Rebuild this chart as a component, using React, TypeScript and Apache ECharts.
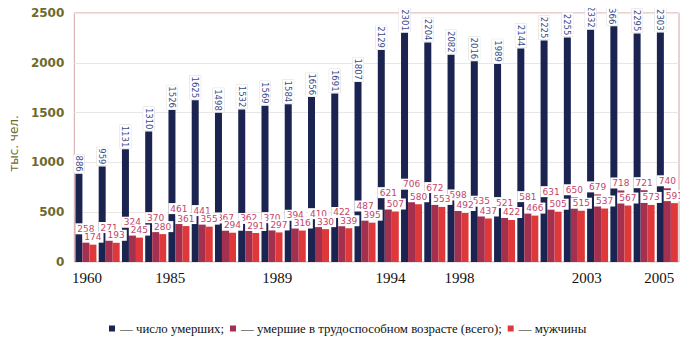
import React, { useEffect, useRef } from "react";
import * as echarts from "echarts";

const years = ["1960","1965","1970","1975","1980","1985","1986","1987","1988","1989","1990","1991","1992","1993","1994","1995","1996","1997","1998","1999","2000","2001","2002","2003","2004","2005"];
const totalDeaths = [886,959,1131,1310,1526,1625,1498,1532,1569,1584,1656,1691,1807,2129,2301,2204,2082,2016,1989,2144,2225,2255,2332,2366,2295,2303];
const workingAge = [258,271,324,370,461,441,367,362,370,394,410,422,487,621,706,672,598,535,521,581,631,650,679,718,721,740];
const men = [174,193,245,280,361,355,294,291,297,316,330,339,395,507,580,553,492,437,422,466,505,515,537,567,573,591];
const shownYears = ["1960","1985","1989","1994","1998","2003","2005"];
const labelShift: Record<string, number> = { "1960": 1, "1985": -32, "1989": -18, "1994": -21, "1998": -45, "2003": -34, "2005": -8 };
const yTicks = [0, 500, 1000, 1500, 2000, 2500];
const names = ["— число умерших;", "— умершие в трудоспособном возрасте (всего);", "— мужчины"];
const colors = ["#1b2451", "#a3304f", "#df383b"];

export default function App() {
  const ref = useRef<HTMLDivElement>(null);
  useEffect(() => {
    if (!ref.current) return;
    const chart = echarts.init(ref.current, null, { renderer: "svg" });
    const rich: Record<string, any> = {};
    shownYears.forEach((y) => {
      const s = labelShift[y] || 0;
      rich["y" + y] = {
        fontFamily: "Liberation Serif",
        fontSize: 15,
        color: "#111",
        padding: s < 0 ? [0, -2 * s, 0, 0] : [0, 0, 0, 2 * s],
      };
    });
    const lowLabel = {
      show: true,
      position: "top",
      distance: 2,
      fontFamily: "DejaVu Sans",
      fontSize: 9,
      color: "#c2466a",
      backgroundColor: "#ffffff",
      padding: [1, 2],
    };
    chart.setOption({
      animation: false,
      backgroundColor: "#ffffff",
      color: colors,
      grid: {
        left: 65,
        right: 9,
        top: 13,
        bottom: 86,
        show: true,
        borderColor: "#d4a4a4",
        borderWidth: 1,
      },
      legend: {
        left: 104,
        top: 317,
        icon: "rect",
        itemWidth: 6,
        itemHeight: 6,
        itemGap: 6,
        textStyle: { fontFamily: "Liberation Serif", fontSize: 12.8, color: "#111" },
        data: names,
      },
      xAxis: {
        type: "category",
        data: years,
        axisLine: { show: false },
        axisTick: { show: false },
        axisLabel: {
          interval: 0,
          margin: 8,
          formatter: (v: string) => (shownYears.indexOf(v) >= 0 ? `{y${v}|${v}}` : ""),
          rich,
        },
      },
      yAxis: {
        type: "value",
        min: 0,
        max: 2500,
        interval: 500,
        name: "тыс. чел.",
        nameLocation: "middle",
        nameGap: 48,
        nameTextStyle: { fontFamily: "DejaVu Sans", fontSize: 12, color: "#6e6a2c", padding: [0, 12, 0, 0] },
        axisLine: { show: false },
        axisTick: { show: false },
        axisLabel: {
          margin: 10,
          fontFamily: "DejaVu Sans",
          fontSize: 12,
          fontWeight: "bold",
          color: "#6e6a2c",
          formatter: (v: number) => (yTicks.indexOf(v) >= 0 ? String(v) : ""),
        },
        splitLine: { lineStyle: { color: "#ebe6e6" } },
      },
      series: [
        {
          name: names[0],
          type: "bar",
          data: totalDeaths,
          barWidth: 7,
          barGap: "0%",
          barCategoryGap: "10%",
          itemStyle: { color: colors[0] },
          labelLayout: (p: any) =>
            p.labelRect && p.labelRect.y < 3 ? { dy: 3 - p.labelRect.y } : {},
          label: {
            show: true,
            position: "top",
            rotate: -90,
            align: "right",
            verticalAlign: "middle",
            distance: 1,
            fontFamily: "DejaVu Sans",
            fontSize: 8.5,
            color: "#3b4a8c",
            backgroundColor: "#ffffff",
            borderColor: "#dddddd",
            borderWidth: 0.5,
            padding: [1, 1],
          },
        },
        {
          name: names[1],
          type: "bar",
          data: workingAge,
          barWidth: 7,
          barGap: "0%",
          itemStyle: { color: colors[1] },
          label: lowLabel,
        },
        {
          name: names[2],
          type: "bar",
          data: men,
          barWidth: 7,
          barGap: "0%",
          itemStyle: { color: colors[2] },
          label: lowLabel,
        },
      ],
    });
    return () => chart.dispose();
  }, []);
  return <div ref={ref} style={{ width: 688, height: 348, marginLeft: -8, marginTop: -8 }} />;
}
